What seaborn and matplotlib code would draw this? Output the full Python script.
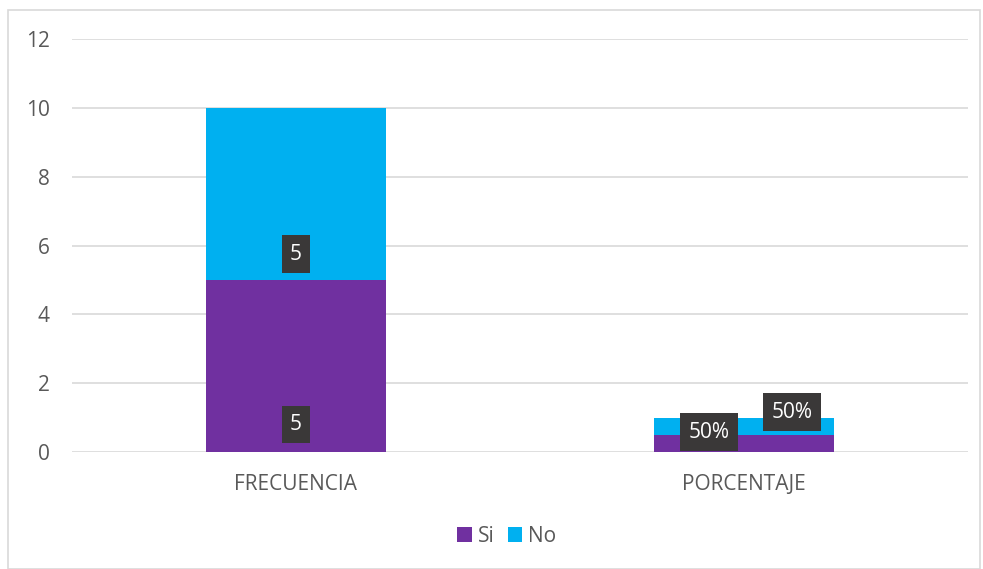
import pandas as pd
import matplotlib.pyplot as plt
import seaborn as sns
from matplotlib.patches import Rectangle

sns.set_theme(style="white")
plt.rcParams['font.family'] = ['Open Sans', 'DejaVu Sans']

categories = ['FRECUENCIA', 'PORCENTAJE']
si_values = [5, 0.5]
no_values = [5, 0.5]
si_labels = ['5', '50%']
no_labels = ['5', '50%']
y_ticks = [0, 2, 4, 6, 8, 10, 12]

df = pd.DataFrame({'Categoria': categories, 'Si': si_values, 'No': no_values})
df['Total'] = df['Si'] + df['No']

fig = plt.figure(figsize=(9.83, 5.69), dpi=100)
ax = fig.add_axes([72 / 983, (569 - 452) / 569, 896 / 983, 413 / 569])

# outer chart border
fig.patches.append(Rectangle((8 / 983, 0), 972 / 983, 559 / 569, transform=fig.transFigure,
                             fill=False, edgecolor='#D9D9D9', linewidth=1.2))

sns.barplot(data=df, x='Categoria', y='Total', color='#00B0F0', width=0.4,
            saturation=1, ax=ax, label='No', zorder=3, linewidth=0)
sns.barplot(data=df, x='Categoria', y='Si', color='#7030A0', width=0.4,
            saturation=1, ax=ax, label='Si', zorder=3, linewidth=0)

ax.set_ylim(0, 12)
ax.set_xlim(-0.5, 1.5)
ax.set_yticks(y_ticks)
ax.yaxis.grid(True, color='#D9D9D9', linewidth=1.2, zorder=0)
ax.set_axisbelow(True)
for s in ax.spines.values():
    s.set_visible(False)
ax.set_xlabel('')
ax.set_ylabel('')
ax.tick_params(axis='both', length=0, labelsize=15, labelcolor='#595959')
ax.tick_params(axis='x', pad=16)
ax.tick_params(axis='y', pad=16)

box = dict(boxstyle='square,pad=0.4', facecolor='#3A3838', edgecolor='none')
# label offsets (x in category units, y in data units) as placed in the original
si_off = [(0, 0.8), (-0.078, 0.58)]
no_off = [(0, 0.75), (0.107, 0.66)]
for i in range(len(categories)):
    ax.text(i + si_off[i][0], si_off[i][1], si_labels[i], color='white', fontsize=15,
            ha='center', va='center', bbox=box, zorder=5)
    ax.text(i + no_off[i][0], si_values[i] + no_off[i][1], no_labels[i], color='white',
            fontsize=15, ha='center', va='center', bbox=box, zorder=5)

handles, labels = ax.get_legend_handles_labels()
order = [labels.index('Si'), labels.index('No')]
fig.legend([handles[j] for j in order], [labels[j] for j in order],
           loc='center', bbox_to_anchor=(507 / 983, 1 - 536 / 569), ncol=2, frameon=False,
           fontsize=15, handlelength=0.7, handleheight=0.7, handletextpad=0.3,
           columnspacing=0.6, labelcolor='#595959')
if ax.get_legend():
    ax.get_legend().remove()

fig.savefig('out.png', dpi=100)
